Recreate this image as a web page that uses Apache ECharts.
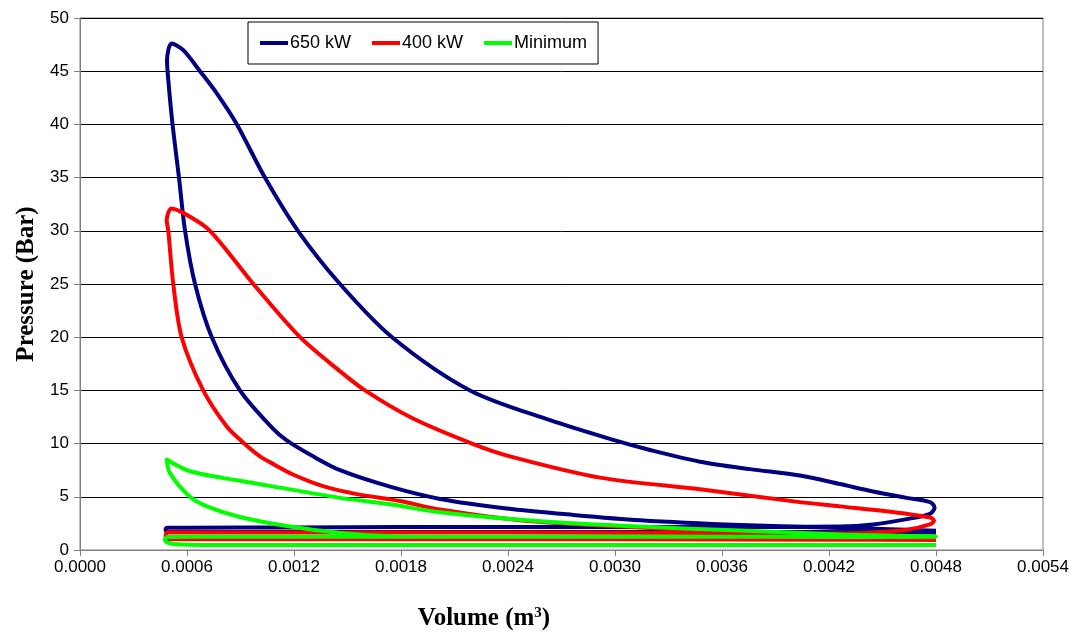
<!DOCTYPE html>
<html>
<head>
<meta charset="utf-8">
<script src="https://cdn.jsdelivr.net/npm/echarts@6.0.0/dist/echarts.min.js"></script>
<style>
html,body{margin:0;padding:0;background:#fff;}
#chart{width:1075px;height:636px;}
</style>
</head>
<body>
<div id="chart"></div>
<script>
// ---- Data (volume m^3, pressure bar), traced in cycle order ----
const seriesNames = ['650 kW', '400 kW', 'Minimum'];

const vol650 = [0.0048, 0.004636, 0.004262, 0.003701, 0.00314, 0.002765, 0.002393, 0.002019, 0.001738, 0.001458, 0.001307, 0.001159, 0.001082, 0.000897, 0.000739, 0.000645, 0.000589, 0.000555, 0.000519, 0.000496, 0.000488, 0.000514,
  0.000578, 0.000673, 0.000768, 0.00088, 0.001037, 0.001222, 0.001458, 0.00175, 0.002187, 0.002636, 0.003, 0.003196, 0.003477, 0.003757, 0.004037, 0.004262, 0.004447, 0.004636, 0.004766, 0.004792, 0.004766, 0.004636, 0.004447, 0.004262,
  0.0036, 0.003, 0.0024, 0.0018, 0.0012, 0.0006, 0.000487, 0.00048, 0.000487, 0.0006, 0.0018, 0.003, 0.0042, 0.0048];
const pres650 = [1.8, 1.9, 2.07, 2.35, 2.8, 3.3, 3.9, 4.8, 5.95, 7.5, 8.8, 10.3, 11.4, 15.0, 20.0, 25.0, 30.0, 35.0, 40.0, 44.0, 46.0, 47.6,
  47.0, 45.0, 42.9, 40.0, 35.0, 30.0, 25.0, 20.0, 15.0, 12.2, 10.3, 9.4, 8.3, 7.6, 7.0, 6.2, 5.5, 4.9, 4.5, 4.0, 3.4, 2.9, 2.4, 2.2,
  2.15, 2.15, 2.15, 2.15, 2.12, 2.1, 2.1, 1.9, 1.7, 1.7, 1.7, 1.7, 1.68, 1.66];

const vol400 = [0.0048, 0.004262, 0.003645, 0.003028, 0.002467, 0.002019, 0.001794, 0.001553, 0.001363, 0.001194, 0.001093, 0.001009, 0.000908, 0.000823, 0.000691, 0.00057, 0.000523, 0.000495, 0.000486, 0.000514,
  0.000598, 0.000729, 0.000972, 0.001234, 0.001458, 0.001598, 0.001862, 0.002198, 0.002411, 0.002916, 0.003477, 0.004037, 0.004262, 0.004636, 0.004766, 0.004789, 0.004766, 0.004636, 0.004447, 0.004262,
  0.0036, 0.0024, 0.0012, 0.00049, 0.00048, 0.00049, 0.0006, 0.0018, 0.003, 0.0042, 0.0048];
const pres400 = [1.3, 1.45, 1.75, 2.2, 2.8, 3.8, 4.6, 5.25, 6.0, 7.1, 8.0, 8.8, 10.2, 11.6, 15.0, 20.0, 25.0, 30.0, 31.0, 32.1,
  31.5, 30.0, 25.0, 20.0, 16.8, 15.0, 12.4, 10.0, 8.8, 6.8, 5.7, 4.5, 4.1, 3.4, 3.05, 2.75, 2.4, 1.9, 1.65, 1.55,
  1.6, 1.65, 1.65, 1.66, 1.3, 1.0, 1.0, 1.0, 1.0, 0.97, 0.95];

const volMin = [0.0048, 0.0042, 0.0036, 0.003, 0.0024, 0.00202, 0.001738, 0.001458, 0.001178, 0.000897, 0.000712, 0.000617, 0.000505, 0.000486,
  0.000617, 0.000897, 0.001178, 0.001458, 0.001738, 0.002019, 0.00258, 0.00314, 0.0037, 0.00426, 0.0048,
  0.0042, 0.003, 0.0018, 0.0006, 0.00049, 0.000475, 0.00049, 0.00055, 0.0007, 0.0018, 0.003, 0.0042, 0.0048];
const presMin = [1.22, 1.23, 1.24, 1.25, 1.25, 1.25, 1.3, 1.6, 2.2, 3.1, 4.1, 5.0, 7.2, 8.5,
  7.4, 6.5, 5.7, 4.9, 4.3, 3.55, 2.7, 2.2, 1.83, 1.46, 1.27,
  1.25, 1.25, 1.25, 1.25, 1.22, 1.0, 0.7, 0.53, 0.48, 0.48, 0.47, 0.47, 0.47];

const seriesColors = ['#000080', '#FF0000', '#00FF00'];
const xTicks = { min: 0, max: 0.0054, step: 0.0006 };
const yTicks = { min: 0, max: 50, step: 5 };

function pairs(v, p) { return v.map((x, i) => [x, p[i]]); }
const allData = [pairs(vol650, pres650), pairs(vol400, pres400), pairs(volMin, presMin)];

const chart = echarts.init(document.getElementById('chart'), null, { renderer: 'canvas' });
const tickFont = 'Liberation Sans';

chart.setOption({
  animation: false,
  backgroundColor: '#fff',
  grid: { left: 80, right: 32, top: 18, bottom: 86, show: true, borderColor: '#808080', borderWidth: 1 },
  legend: {
    left: 248, top: 22,
    padding: [12, 11, 12, 12],
    itemGap: 21, itemWidth: 28, itemHeight: 4,
    borderColor: '#000', borderWidth: 1, backgroundColor: '#fff',
    icon: 'rect',
    textStyle: { fontFamily: tickFont, fontSize: 18, color: '#000', padding: [0, 0, 0, -3] },
    data: seriesNames
  },
  xAxis: {
    type: 'value', min: xTicks.min, max: xTicks.max, interval: xTicks.step,
    axisLine: { show: true, onZero: false, lineStyle: { color: '#808080', width: 1 } },
    axisTick: { show: true, length: 6, inside: false, lineStyle: { color: '#808080' } },
    axisLabel: { fontFamily: tickFont, fontSize: 17, color: '#000', margin: 9, formatter: v => v.toFixed(4) },
    splitLine: { show: false }
  },
  yAxis: {
    type: 'value', min: yTicks.min, max: yTicks.max, interval: yTicks.step,
    name: 'Pressure (Bar)', nameLocation: 'middle', nameGap: 40,
    nameTextStyle: { fontFamily: 'Liberation Serif', fontWeight: 'bold', fontSize: 25, color: '#000' },
    axisLine: { show: true, onZero: false, lineStyle: { color: '#808080', width: 1 } },
    axisTick: { show: true, length: 6, inside: false, lineStyle: { color: '#808080' } },
    axisLabel: { fontFamily: tickFont, fontSize: 17, color: '#000', margin: 11 },
    splitLine: { show: true, lineStyle: { color: '#000', width: 1 } }
  },
  graphic: [{
    type: 'text', x: 484, y: 619, z: 100,
    style: {
      text: 'Volume (m{sup|3})',
      align: 'center', verticalAlign: 'middle',
      fontFamily: 'Liberation Serif', fontWeight: 'bold', fontSize: 25, fill: '#000',
      rich: { sup: { fontFamily: 'Liberation Serif', fontWeight: 'bold', fontSize: 15, verticalAlign: 'top', padding: [0, 0, 12, 0] } }
    }
  }],
  series: allData.map((d, i) => ({
    name: seriesNames[i], type: 'line', data: d,
    showSymbol: false, symbol: 'none', smooth: 0.3,
    color: seriesColors[i],
    lineStyle: { color: seriesColors[i], width: 4, join: 'round' },
    itemStyle: { color: seriesColors[i] },
    z: 2 + i
  }))
});
</script>
</body>
</html>
